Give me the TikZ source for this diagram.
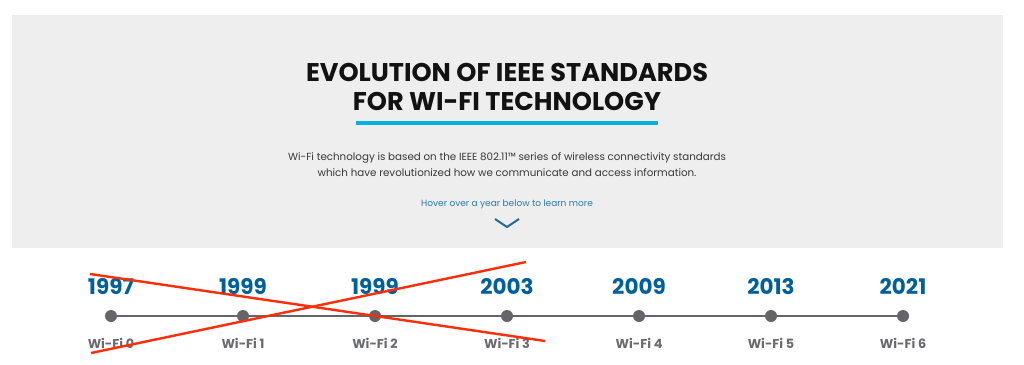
\documentclass[tikz,border=0pt]{standalone}
\usepackage{fontspec}
\setmainfont{Poppins}
\usetikzlibrary{positioning}

\definecolor{panelgray}{HTML}{EEEEEE}
\definecolor{ieeeblue}{HTML}{00609C}
\definecolor{linkblue}{HTML}{2B7BB4}
\definecolor{barcyan}{HTML}{00B2E0}
\definecolor{dotgray}{HTML}{636569}
\definecolor{labelgray}{HTML}{6A6B6E}
\definecolor{strikered}{HTML}{FF2D0A}

\tikzset{
  yearlabel/.style={text=ieeeblue, font=\fontsize{21.5}{21.5}\selectfont\bfseries, inner sep=0pt},
  wifilabel/.style={text=labelgray, font=\fontsize{12.8}{12.8}\selectfont\bfseries, inner sep=0pt},
  milestone/.style={circle, fill=dotgray, minimum size=12pt, inner sep=0pt},
  strike/.style={draw=strikered, line width=2.4pt}
}

\begin{document}
\begin{tikzpicture}[x=1pt, y=-1pt]
  \useasboundingbox[fill=white] (0,0) rectangle (1024,364);
  % header panel
  \fill[panelgray] (12,15) rectangle (1003,248);
  \node[align=center, text=black!93, font=\fontsize{25.6}{29}\selectfont\bfseries] (title) at (507,86.5)
    {EVOLUTION OF IEEE STANDARDS\\FOR WI-FI TECHNOLOGY};
  \draw[barcyan, line width=4.5pt] (356,123) -- (658,123);
  \node[align=center, text=black!78, font=\fontsize{10.3}{16}\selectfont] (intro) at (507,165)
    {Wi-Fi technology is based on the IEEE 802.11™ series of wireless connectivity standards\\
     which have revolutionized how we communicate and access information.};
  \node[text=linkblue, font=\fontsize{9}{9}\selectfont] (hover) at (507,204)
    {Hover over a year below to learn more};
  \draw[linkblue!85!black, line width=2pt, line join=round] (495,219) -- (507,227) -- (519,219);

  % timeline
  \foreach \i/\yr/\xx in {0/1997/111, 1/1999/243, 2/1999/375, 3/2003/507, 4/2009/639, 5/2013/771, 6/2021/903} {
    \node[milestone] (dot\i) at (\xx,316) {};
    \node[yearlabel, above=15pt of dot\i] (year\i) {\yr};
    \node[wifilabel, below=16pt of dot\i] (wifi\i) {Wi-Fi \i};
  }
  \draw[dotgray, line width=1.8pt] (dot0) -- (dot1) -- (dot2) -- (dot3) -- (dot4) -- (dot5) -- (dot6);

  % crossed out
  \coordinate (strikeA) at (90,274);
  \coordinate (strikeB) at (545,341);
  \coordinate (strikeC) at (91,353);
  \coordinate (strikeD) at (526,262);
  \draw[strike] (strikeA) -- (strikeB);
  \draw[strike] (strikeC) -- (strikeD);
\end{tikzpicture}
\end{document}
